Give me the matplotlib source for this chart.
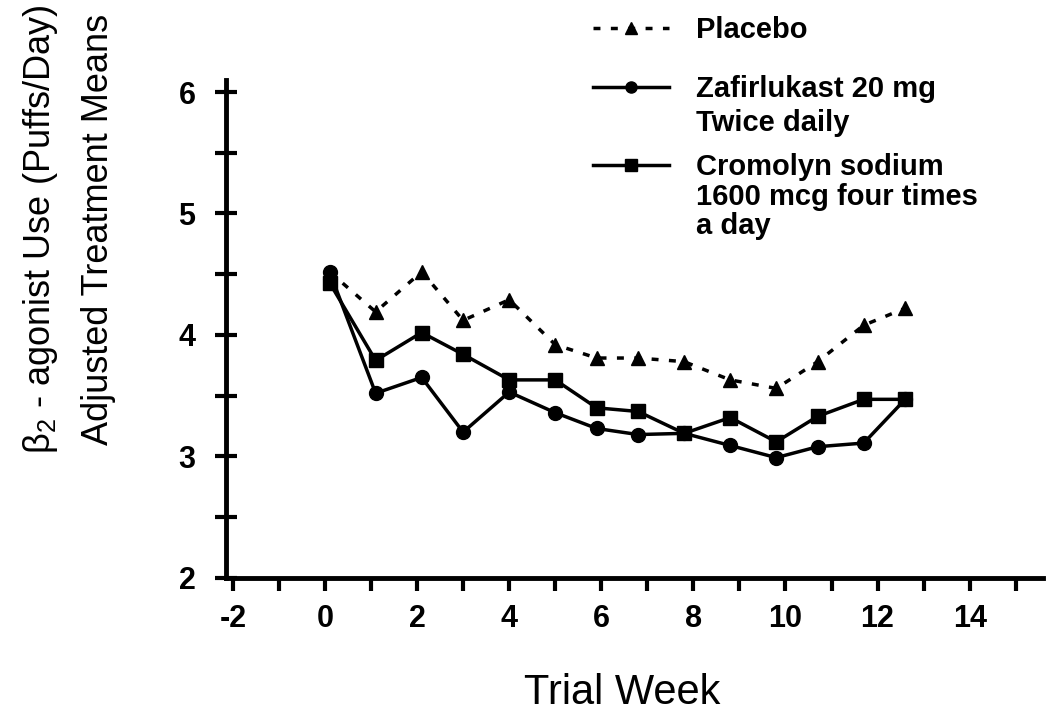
import numpy as np
import matplotlib.pyplot as plt
from matplotlib.ticker import MultipleLocator
from matplotlib.lines import Line2D

# weeks (as plotted) and adjusted treatment means
weeks = [0.1, 1.1, 2.1, 3.0, 4.0, 5.0, 5.9, 6.8, 7.8, 8.8, 9.8, 10.7, 11.7, 12.6]
placebo = [4.52, 4.19, 4.52, 4.12, 4.29, 3.92, 3.81, 3.81, 3.78, 3.63, 3.56, 3.78, 4.08, 4.22]
zafirlukast = [4.52, 3.52, 3.65, 3.20, 3.53, 3.36, 3.23, 3.18, 3.19, 3.09, 2.99, 3.08, 3.11, 3.47]
cromolyn = [4.43, 3.79, 4.02, 3.84, 3.63, 3.63, 3.40, 3.37, 3.19, 3.32, 3.12, 3.33, 3.47, 3.47]

labels = ['Placebo', 'Zafirlukast 20 mg\nTwice daily', 'Cromolyn sodium\n1600 mcg four times\na day']

plt.rcParams['font.family'] = ['Liberation Sans', 'DejaVu Sans']
plt.rcParams['axes.unicode_minus'] = False

fig = plt.figure(figsize=(10.56, 7.26), dpi=100)
ax = fig.add_axes([0.214, 0.204, 0.774, 0.686])

l1, = ax.plot(weeks, placebo, color='k', lw=2.5, ls=(0, (2, 3)), marker='^', ms=10)
l2, = ax.plot(weeks, zafirlukast, color='k', lw=2.5, marker='o', ms=10)
l3, = ax.plot(weeks, cromolyn, color='k', lw=2.5, marker='s', ms=10)

ax.set_xlim(-2.15, 15.6)
ax.set_ylim(2, 6.1)
ax.xaxis.set_major_locator(MultipleLocator(2))
ax.xaxis.set_minor_locator(MultipleLocator(1))
ax.yaxis.set_major_locator(MultipleLocator(1))
ax.yaxis.set_minor_locator(MultipleLocator(0.5))

for s in ['top', 'right']:
    ax.spines[s].set_visible(False)
for s in ['left', 'bottom']:
    ax.spines[s].set_linewidth(3.5)
    ax.spines[s].set_color('k')

ax.tick_params(axis='y', which='both', direction='inout', length=16, width=3, pad=14)
ax.tick_params(axis='x', which='both', direction='out', length=9, width=3, pad=10)
for t in ax.get_xticklabels() + ax.get_yticklabels():
    t.set_fontsize(22)
    t.set_fontweight('bold')

ax.set_xlabel('Trial Week', fontsize=30)
ax.xaxis.set_label_coords(0.485, -0.19)
ax.set_ylabel('$\\mathregular{\\beta_2}$ - agonist Use (Puffs/Day)\nAdjusted Treatment Means',
              fontsize=26, linespacing=1.75)
ax.yaxis.set_label_coords(-0.135, 0.70)

# legend: handle sits beside the first line of each label
blank = Line2D([], [], color='none')
tops = [0.978, 0.897, 0.789]
spacing = [0.0, 0.23, 0.05]
for line, lab, top, sp in zip([l1, l2, l3], labels, tops, spacing):
    parts = lab.split('\n')
    hs = [line] + [blank] * (len(parts) - 1)
    leg = fig.legend(hs, parts, loc='upper left', bbox_to_anchor=(0.562, top),
                     frameon=False, borderpad=0, borderaxespad=0,
                     handlelength=2.6, handletextpad=0.9, labelspacing=sp,
                     markerscale=0.8, prop={'size': 21, 'weight': 'bold'})

fig.savefig('out.png', dpi=100)
